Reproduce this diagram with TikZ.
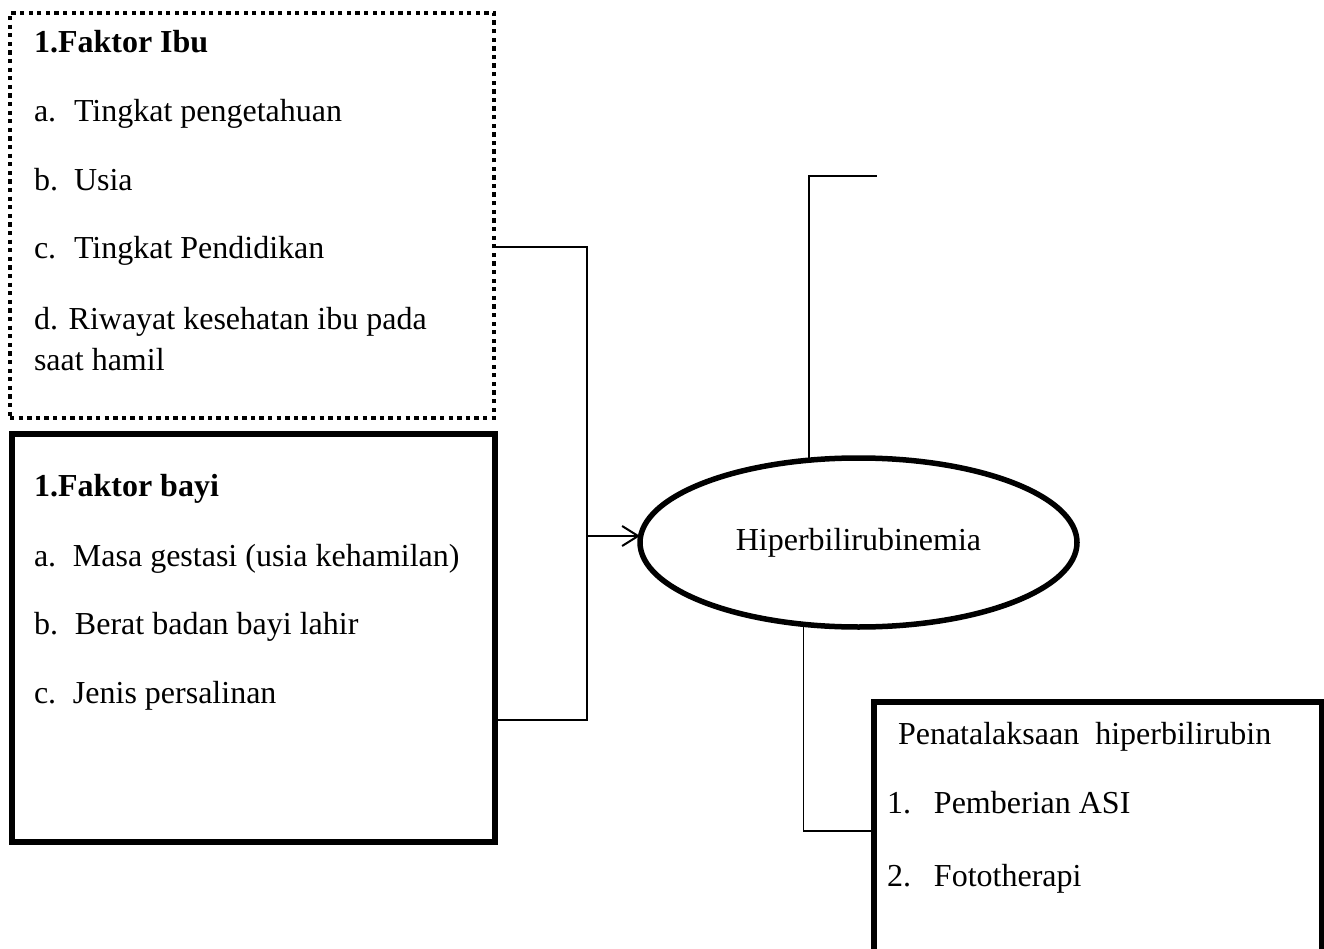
\documentclass[tikz,border=0pt]{standalone}
\usepackage{fontspec}
\setmainfont{Liberation Serif}
\usetikzlibrary{shapes.geometric,arrows.meta}
\newcommand\itmlab[2]{\makebox[#1][l]{#2}}
\begin{document}
\begin{tikzpicture}[x=1pt,y=-1pt,
  txt/.style={anchor=base west,inner sep=0pt,outer sep=0pt,font=\fontsize{32}{38}\selectfont},
  thickbox/.style={draw,line width=5.5pt,rectangle,inner sep=0pt,outer sep=0pt},
  dotbox/.style={draw,line width=4.5pt,dash pattern=on 4.3pt off 4.3pt,rectangle,inner sep=0pt,outer sep=0pt},
  conn/.style={line width=1.6pt},
  oval/.style={draw,ellipse,line width=5.5pt,inner sep=0pt,outer sep=0pt,font=\fontsize{32}{38}\selectfont}
]
\useasboundingbox (0,0) rectangle (1324,949);
\clip (0,0) rectangle (1324,949);

% boxes
\node[dotbox,minimum width=484pt,minimum height=405pt] (ibu) at (252,215.5) {};
\node[thickbox,minimum width=483pt,minimum height=408pt] (bayi) at (253.5,638) {};
\node[thickbox,minimum width=448pt,minimum height=298pt] (pen) at (1098,851) {};
\node[oval,minimum width=437pt,minimum height=169pt] (ell) at (858.5,542.5) {Hiperbilirubinemia};

% texts, Faktor Ibu
\node[txt] (i0) at (34,53) {\textbf{1.Faktor Ibu}};
\node[txt] (i1) at (34,122) {\itmlab{40pt}{a.}Tingkat pengetahuan};
\node[txt] (i2) at (34,191) {\itmlab{40pt}{b.}Usia};
\node[txt] (i3) at (34,259) {\itmlab{40pt}{c.}Tingkat Pendidikan};
\node[txt] (i4) at (34,329) {d. Riwayat kesehatan ibu pada};
\node[txt] (i5) at (34,370) {saat hamil};

% texts, Faktor bayi
\node[txt] (y0) at (34,496) {\textbf{1.Faktor bayi}};
\node[txt] (y1) at (34,566) {\itmlab{39pt}{a.}Masa gestasi (usia kehamilan)};
\node[txt] (y2) at (34,634) {\itmlab{41pt}{b.}Berat badan bayi lahir};
\node[txt] (y3) at (34,703) {\itmlab{39pt}{c.}Jenis persalinan};

% texts, Penatalaksaan
\node[txt] (p0) at (898,744) {Penatalaksaan\ \ hiperbilirubin};
\node[txt] (p1) at (887,813) {\itmlab{47pt}{1.}Pemberian ASI};
\node[txt] (p2) at (887,886) {\itmlab{47pt}{2.}Fototherapi};

% connectors
\coordinate (b1) at (587,247);
\coordinate (b2) at (587,720);
\coordinate (j) at (587,536);
\coordinate (t2) at (877,176);
\draw[conn] (ibu.east |- b1) -- (b1) -- (b2) -- (bayi.east |- b2);
\draw[line width=2pt,-{Straight Barb[length=16pt,width=20pt,line width=2pt]}] (j) -- (j -| ell.west);
\draw[conn] (ell.121.56) |- (t2);
\draw[conn] (ell.236.86) |- (pen.west |- 0,831);
\end{tikzpicture}
\end{document}
